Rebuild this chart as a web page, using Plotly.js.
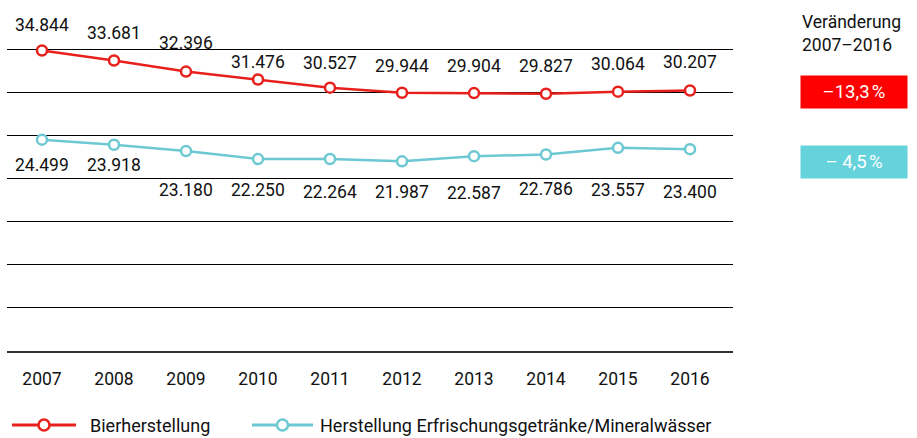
<!DOCTYPE html>
<html><head><meta charset="utf-8">
<script src="https://cdn.plot.ly/plotly-3.0.1.min.js"></script>
<style>body{margin:0;padding:0;background:#fff}#chart{width:917px;height:438px}</style>
</head><body><div id="chart"></div>
<script>
const years = [2007,2008,2009,2010,2011,2012,2013,2014,2015,2016];
const bier = [34844,33681,32396,31476,30527,29944,29904,29827,30064,30207];
const erfr = [24499,23918,23180,22250,22264,21987,22587,22786,23557,23400];
const seriesNames = ['Bierherstellung','Herstellung Erfrischungsgetränke/Mineralwässer'];
const changeLabels = ['\u201313,3\u202f%','\u2013 4,5\u202f%'];
const headerText = 'Veränderung<br>2007\u20132016';
// label offsets (styling, pixels)
const bierShift = [25,28,29,18,25,27,27,28,28,28];
const erfrShift = [-25,-20,-39,-31,-33,-31,-37,-35,-42,-43];

const RED = '#E8201C', CYAN = '#6CC8D2';
const FONT = 'Roboto, "Liberation Sans", sans-serif';
const FS = 17.5;
const fmt = v => v.toLocaleString('de-DE');

// pixel -> paper helpers (plot area: x 7..733, y 6..351)
const px = p => (p - 7) / 726;
const py = p => (351 - p) / 345;

const traces = [
  {x: years, y: bier, name: seriesNames[0], mode: 'lines+markers', type: 'scatter', showlegend:false,
   line: {color: RED, width: 2.5}, marker: {size: 10, color: '#fff', line: {color: RED, width: 2.5}}},
  {x: years, y: erfr, name: seriesNames[1], mode: 'lines+markers', type: 'scatter', showlegend:false,
   line: {color: CYAN, width: 2.5}, marker: {size: 10, color: '#fff', line: {color: CYAN, width: 2.5}}}
];

const ann = [];
years.forEach((yr,i) => {
  ann.push({x: yr, y: bier[i], xref:'x', yref:'y', text: fmt(bier[i]), showarrow:false, yshift: bierShift[i], font:{family:FONT,size:FS,color:'#111'}});
  ann.push({x: yr, y: erfr[i], xref:'x', yref:'y', text: fmt(erfr[i]), showarrow:false, yshift: erfrShift[i], font:{family:FONT,size:FS,color:'#111'}});
});
ann.push({x: px(800), y: py(10), xref:'paper', yref:'paper', xanchor:'left', yanchor:'top', align:'left', text: headerText, showarrow:false, font:{family:FONT,size:FS,color:'#111'}});
ann.push({x: px(854), y: py(92), xref:'paper', yref:'paper', xanchor:'center', yanchor:'middle', text: changeLabels[0], showarrow:false, bgcolor: '#FF0000', width: 102, height: 28, borderpad: 2, font:{family:FONT,size:18.5,color:'#fff'}});
ann.push({x: px(854), y: py(162), xref:'paper', yref:'paper', xanchor:'center', yanchor:'middle', text: changeLabels[1], showarrow:false, bgcolor: '#66D3DC', width: 102, height: 28, borderpad: 2, font:{family:FONT,size:18.5,color:'#fff'}});

// manual legend
const legendItems = [
  {name: seriesNames[0], color: RED, x0: 12, x1: 76, text: 88},
  {name: seriesNames[1], color: CYAN, x0: 252, x1: 313, text: 318}
];
const shapes = [];
const LY = 425;
legendItems.forEach(it => {
  shapes.push({type:'line', xref:'paper', yref:'paper', x0: px(it.x0), x1: px(it.x1), y0: py(LY), y1: py(LY), line:{color: it.color, width: 3}});
  const cx = px((it.x0 + it.x1) / 2);
  shapes.push({type:'circle', xref:'paper', yref:'paper', xsizemode:'pixel', ysizemode:'pixel', xanchor: cx, yanchor: py(LY),
    x0: -5.5, x1: 5.5, y0: -5.5, y1: 5.5, fillcolor:'#fff', line:{color: it.color, width: 2.5}});
  ann.push({x: px(it.text), y: py(LY), xref:'paper', yref:'paper', xanchor:'left', yanchor:'middle', text: it.name, showarrow:false, font:{family:FONT,size:18,color:'#111'}});
});

const layout = {
  width: 917, height: 438,
  margin: {l: 7, r: 184, t: 6, b: 87, autoexpand: false},
  paper_bgcolor: '#fff', plot_bgcolor: '#fff',
  font: {family: FONT, size: FS, color: '#111'},
  showlegend: false,
  xaxis: {range: [2006.514, 2016.597], tickvals: years, ticktext: years.map(String), showgrid: false, zeroline: false,
          showline: true, linecolor: '#333', linewidth: 2, ticks: '', ticklabelstandoff: 11, tickfont: {family: FONT, size: FS, color: '#111'}},
  yaxis: {range: [0, 40000], dtick: 5000, showgrid: true, gridcolor: '#000', gridwidth: 1, zeroline: false, showticklabels: false, ticks: ''},
  annotations: ann,
  shapes: shapes
};
Plotly.newPlot('chart', traces, layout, {displayModeBar: false, staticPlot: true});
</script></body></html>
